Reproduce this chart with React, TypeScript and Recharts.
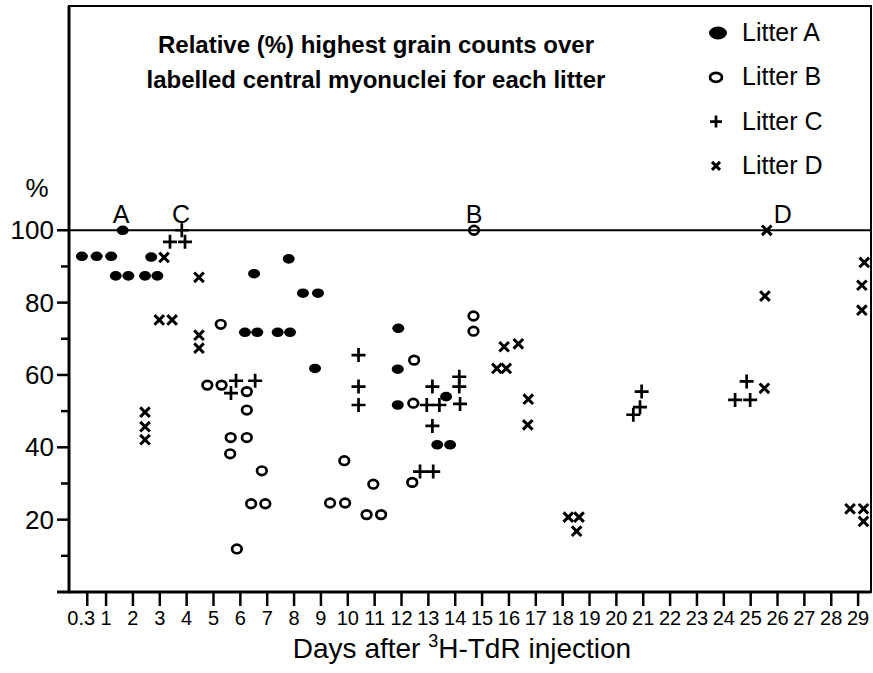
import { ScatterChart, Scatter, XAxis, YAxis, ReferenceLine, ReferenceDot, ReferenceArea } from 'recharts'

// [day, % of highest grain count]
const litterA = [
  [0.1, 92.8], [0.65, 92.8], [1.19, 92.8], [1.62, 100], [1.36, 87.4], [1.83, 87.4],
  [2.45, 87.4], [2.91, 87.4], [2.68, 92.6], [6.51, 88.0], [7.8, 92.1], [8.33, 82.6],
  [8.89, 82.6], [6.17, 71.8], [6.63, 71.8], [7.39, 71.8], [7.85, 71.8], [8.78, 61.8],
  [11.88, 72.9], [11.86, 61.6], [11.86, 51.7], [13.66, 54.0], [13.33, 40.7], [13.81, 40.7]
]

const litterB = [
  [5.27, 74.0], [4.77, 57.2], [5.3, 57.2], [6.24, 55.4], [6.24, 50.3], [5.64, 42.7],
  [6.24, 42.7], [5.62, 38.2], [6.8, 33.5], [6.4, 24.4], [6.93, 24.4], [5.87, 11.9],
  [9.87, 36.3], [9.34, 24.6], [9.9, 24.6], [10.95, 29.8], [10.7, 21.4], [11.24, 21.4],
  [12.47, 64.1], [12.44, 52.2], [12.4, 30.3], [14.68, 76.3], [14.68, 72.1], [14.7, 100]
]

const litterC = [
  [3.38, 96.8], [3.94, 96.8], [3.82, 100], [5.84, 58.4], [6.55, 58.4], [5.65, 55.0],
  [10.4, 65.5], [10.4, 56.8], [10.4, 51.7], [13.15, 56.8], [12.94, 51.7], [13.41, 51.7],
  [13.15, 45.9], [14.15, 59.5], [14.15, 56.8], [14.18, 52.0], [12.69, 33.3], [13.18, 33.3],
  [20.94, 55.4], [20.88, 51.1], [20.63, 49.0], [24.85, 58.2], [24.42, 53.1], [24.98, 53.1]
]

const litterD = [
  [3.16, 92.5], [2.98, 75.2], [3.46, 75.2], [4.46, 87.0], [4.46, 71.0], [4.46, 67.4],
  [2.45, 49.7], [2.45, 45.7], [2.45, 42.1], [15.82, 67.8], [16.35, 68.6], [15.55, 61.8],
  [15.9, 61.8], [16.72, 53.3], [16.7, 46.2], [18.21, 20.7], [18.61, 20.7], [18.52, 16.8],
  [25.6, 100], [25.53, 81.8], [25.51, 56.3], [29.23, 91.1], [29.14, 84.8], [29.14, 77.9],
  [28.7, 23.0], [29.2, 23.0], [29.2, 19.5]
]

const dayTicks = [0.3, 1, 2, 3, 4, 5, 6, 7, 8, 9, 10, 11, 12, 13, 14, 15, 16, 17, 18, 19, 20, 21, 22, 23, 24, 25, 26, 27, 28, 29]
const pctTicks = [10, 20, 30, 40, 50, 60, 70, 80, 90, 100]

const peakLabels = [
  { name: 'A', day: 1.56 },
  { name: 'C', day: 3.79 },
  { name: 'B', day: 14.7 },
  { name: 'D', day: 26.2 }
]

const legendItems = ['Litter A', 'Litter B', 'Litter C', 'Litter D']

const X_DOMAIN = [-0.38, 29.48]
const Y_DOMAIN = [0, 162]
const FONT = '"Liberation Sans", Arial, Helvetica, sans-serif'

const toPoints = (rows: number[][]) => rows.map(([day, pct]) => ({ day, pct }))

const FilledDot = ({ cx, cy, rx = 6, ry = 4.8 }: any) => <ellipse cx={cx} cy={cy} rx={rx} ry={ry} fill="#000" />
const OpenDot = ({ cx, cy, rx = 4.8, ry = 4.3 }: any) => (
  <ellipse cx={cx} cy={cy} rx={rx} ry={ry} fill="none" stroke="#000" strokeWidth={2.7} />
)
const Plus = ({ cx, cy, s = 7 }: any) => (
  <path d={`M${cx - s},${cy}H${cx + s}M${cx},${cy - s}V${cy + s}`} stroke="#000" strokeWidth={2.7} fill="none" />
)
const Cross = ({ cx, cy, s = 4.8 }: any) => (
  <path
    d={`M${cx - s},${cy - s}L${cx + s},${cy + s}M${cx + s},${cy - s}L${cx - s},${cy + s}`}
    stroke="#000"
    strokeWidth={3}
    fill="none"
  />
)

const YTick = ({ y, payload }: any) => {
  const major = payload.value % 20 === 0
  return (
    <g>
      <line x1={major ? 57 : 61} x2={69} y1={y} y2={y} stroke="#000" strokeWidth={2.5} />
      {major && (
        <text x={54} y={y + 9} textAnchor="end" fontSize={26} fontFamily={FONT} fill="#000">
          {payload.value}
        </text>
      )}
    </g>
  )
}

const XTick = ({ x, y, payload }: any) => (
  <text
    x={payload.value < 1 ? x - 6 : x}
    y={y}
    dy={15}
    textAnchor="middle"
    fontSize={20}
    fontFamily={FONT}
    fill="#000"
  >
    {payload.value}
  </text>
)

const App = () => {
  return (
    <div style={{ position: 'absolute', left: 0, top: 0, width: 873, height: 673, background: '#fff' }}>
      <ScatterChart width={873} height={673} margin={{ top: 6, right: 2, bottom: 0, left: 0 }}>
        <ReferenceArea x1={X_DOMAIN[0]} x2={X_DOMAIN[1]} y1={Y_DOMAIN[0]} y2={Y_DOMAIN[1]} fill="none" stroke="#000" strokeWidth={2} />
        <XAxis
          type="number"
          dataKey="day"
          domain={X_DOMAIN}
          ticks={dayTicks}
          interval={0}
          allowDataOverflow
          height={81}
          axisLine={{ stroke: '#000', strokeWidth: 3 }}
          tickLine={{ stroke: '#000', strokeWidth: 2.5 }}
          tickSize={14}
          tickMargin={4}
          tick={<XTick />}
        />
        <YAxis
          type="number"
          dataKey="pct"
          domain={Y_DOMAIN}
          ticks={pctTicks}
          interval={0}
          allowDataOverflow
          width={69}
          axisLine={{ stroke: '#000', strokeWidth: 3 }}
          tickLine={false}
          tick={<YTick />}
        />
        <ReferenceLine y={100} stroke="#000" strokeWidth={2} />
        {peakLabels.map((p) => (
          <ReferenceDot
            key={p.name}
            x={p.day}
            y={100}
            r={0}
            fill="none"
            stroke="none"
            label={{ value: p.name, position: 'top', offset: 7, fontSize: 25, fontFamily: FONT, fill: '#000' }}
          />
        ))}
        <Scatter name="Litter A" data={toPoints(litterA)} shape={<FilledDot />} isAnimationActive={false} />
        <Scatter name="Litter B" data={toPoints(litterB)} shape={<OpenDot />} isAnimationActive={false} />
        <Scatter name="Litter C" data={toPoints(litterC)} shape={<Plus />} isAnimationActive={false} />
        <Scatter name="Litter D" data={toPoints(litterD)} shape={<Cross />} isAnimationActive={false} />
      </ScatterChart>

      <svg width={873} height={673} style={{ position: 'absolute', left: 0, top: 0, pointerEvents: 'none' }}>
        <line x1={57} x2={70} y1={592} y2={592} stroke="#000" strokeWidth={3} />
        <text x={376} y={53} textAnchor="middle" fontSize={24} fontWeight="bold" fontFamily={FONT}>
          Relative (%) highest grain counts over
        </text>
        <text x={376} y={88} textAnchor="middle" fontSize={24} fontWeight="bold" fontFamily={FONT}>
          labelled central myonuclei for each litter
        </text>
        <text x={37} y={197} textAnchor="middle" fontSize={26} fontFamily={FONT}>
          %
        </text>
        <text x={462} y={658} textAnchor="middle" fontSize={28} fontFamily={FONT}>
          Days after <tspan dy={-11} fontSize={18}>3</tspan>
          <tspan dy={11}>H-TdR injection</tspan>
        </text>
        {legendItems.map((name, i) => {
          const cy = 33 + i * 44.3
          return (
            <g key={name}>
              {i === 0 && <FilledDot cx={718} cy={cy} rx={9} ry={6.5} />}
              {i === 1 && <OpenDot cx={716} cy={cy} rx={6} ry={4.5} />}
              {i === 2 && <Plus cx={716} cy={cy} s={6} />}
              {i === 3 && <Cross cx={716} cy={cy} s={4} />}
              <text x={742} y={cy + 8} fontSize={25} fontFamily={FONT}>
                {name}
              </text>
            </g>
          )
        })}
      </svg>
    </div>
  )
}

export default App
